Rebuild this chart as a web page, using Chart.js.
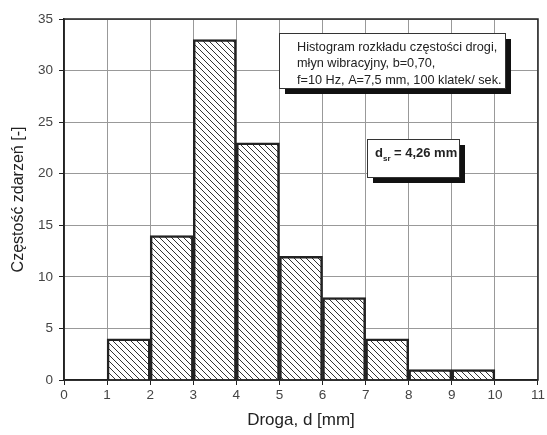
<!DOCTYPE html>
<html>
<head>
<meta charset="utf-8">
<script src="https://cdn.jsdelivr.net/npm/chart.js@4/dist/chart.umd.min.js"></script>
<style>
  body { margin: 0; background: #fff; }
  canvas { display: block; }
</style>
</head>
<body>
<canvas id="histChart" width="547" height="435"></canvas>
<script>
// histogram classes (bin centres) and counts
const binCentres = [1.5, 2.5, 3.5, 4.5, 5.5, 6.5, 7.5, 8.5, 9.5];
const counts = [4, 14, 33, 23, 12, 8, 4, 1, 1];
const xTicks = [0, 1, 2, 3, 4, 5, 6, 7, 8, 9, 10, 11];
const yTicks = [0, 5, 10, 15, 20, 25, 30, 35];
const infoLines = [
    'Histogram rozkładu częstości drogi,',
    'młyn wibracyjny, b=0,70,',
    'f=10 Hz, A=7,5 mm, 100 klatek/ sek.'
];
const meanValue = '4,26 mm';

const FONT = '"Liberation Sans", Arial, sans-serif';

// diagonal hatch fill for the bars
const makeHatch = () => {
    const size = 6;
    const c = document.createElement('canvas');
    c.width = size;
    c.height = size;
    const g = c.getContext('2d');
    g.fillStyle = '#fff';
    g.fillRect(0, 0, size, size);
    g.strokeStyle = '#333';
    g.lineWidth = 1;
    g.beginPath();
    g.moveTo(-1, -1); g.lineTo(size + 1, size + 1);
    g.moveTo(-1, size - 1); g.lineTo(1, size + 1);
    g.moveTo(size - 1, -1); g.lineTo(size + 1, 1);
    g.stroke();
    return g.createPattern(c, 'repeat');
};

// boxes with a black drop shadow, frame round the plot area
const overlay = {
    id: 'overlay',
    afterDraw(chart) {
        const ctx = chart.ctx;
        const a = chart.chartArea;
        ctx.save();
        ctx.strokeStyle = '#222';
        ctx.lineWidth = 1.5;
        ctx.strokeRect(a.left, a.top, a.right - a.left, a.bottom - a.top);

        const shadowBox = (x, y, w, h) => {
            ctx.fillStyle = '#111';
            ctx.fillRect(x + 6, y + 6, w, h);
            ctx.fillStyle = '#fff';
            ctx.fillRect(x, y, w, h);
            ctx.strokeStyle = '#333';
            ctx.lineWidth = 1;
            ctx.strokeRect(x + 0.5, y + 0.5, w, h);
        };

        shadowBox(279, 33, 226, 55);
        ctx.fillStyle = '#222';
        ctx.font = '12.7px ' + FONT;
        ctx.textBaseline = 'middle';
        infoLines.forEach((t, i) => ctx.fillText(t, 297, 47 + i * 16.5));

        shadowBox(367, 139, 92, 38);
        ctx.fillStyle = '#222';
        ctx.font = 'bold 13px ' + FONT;
        ctx.fillText('d', 375, 153);
        ctx.font = 'bold 8px ' + FONT;
        ctx.fillText('sr', 383, 159);
        ctx.font = 'bold 13px ' + FONT;
        ctx.fillText('= ' + meanValue, 394, 153);
        ctx.restore();
    }
};

new Chart(document.getElementById('histChart'), {
    type: 'bar',
    data: {
        datasets: [{
            data: binCentres.map((x, i) => ({ x: x, y: counts[i] })),
            backgroundColor: makeHatch(),
            borderColor: '#222',
            borderWidth: 2.5,
            barPercentage: 1.0,
            categoryPercentage: 1.0
        }]
    },
    options: {
        responsive: false,
        animation: false,
        layout: { padding: { left: 0, top: 19, right: 7, bottom: 0 } },
        plugins: { legend: { display: false }, tooltip: { enabled: false } },
        scales: {
            x: {
                type: 'linear',
                min: 0,
                max: 11,
                offset: false,
                afterBuildTicks: s => { s.ticks = xTicks.map(v => ({ value: v })); },
                afterFit: s => { s.height = 55; },
                grid: { color: '#999', lineWidth: 1, tickColor: '#222', tickLength: 5, offset: false },
                border: { color: '#222', width: 1.5 },
                ticks: { color: '#444', font: { family: FONT, size: 13.5 }, padding: 2, maxRotation: 0 },
                title: { display: true, text: 'Droga, d [mm]', color: '#222', font: { family: FONT, size: 17 }, padding: { top: 2 } }
            },
            y: {
                min: 0,
                max: 35,
                afterBuildTicks: s => { s.ticks = yTicks.map(v => ({ value: v })); },
                afterFit: s => { s.width = 64; },
                grid: { color: '#999', lineWidth: 1, tickColor: '#222', tickLength: 5 },
                border: { color: '#222', width: 1.5 },
                ticks: { color: '#444', font: { family: FONT, size: 13.5 }, padding: 6 },
                title: { display: true, text: 'Częstość zdarzeń [-]', color: '#222', font: { family: FONT, size: 16 }, padding: { top: 9, bottom: 0 } }
            }
        }
    },
    plugins: [overlay]
});
</script>
</body>
</html>
